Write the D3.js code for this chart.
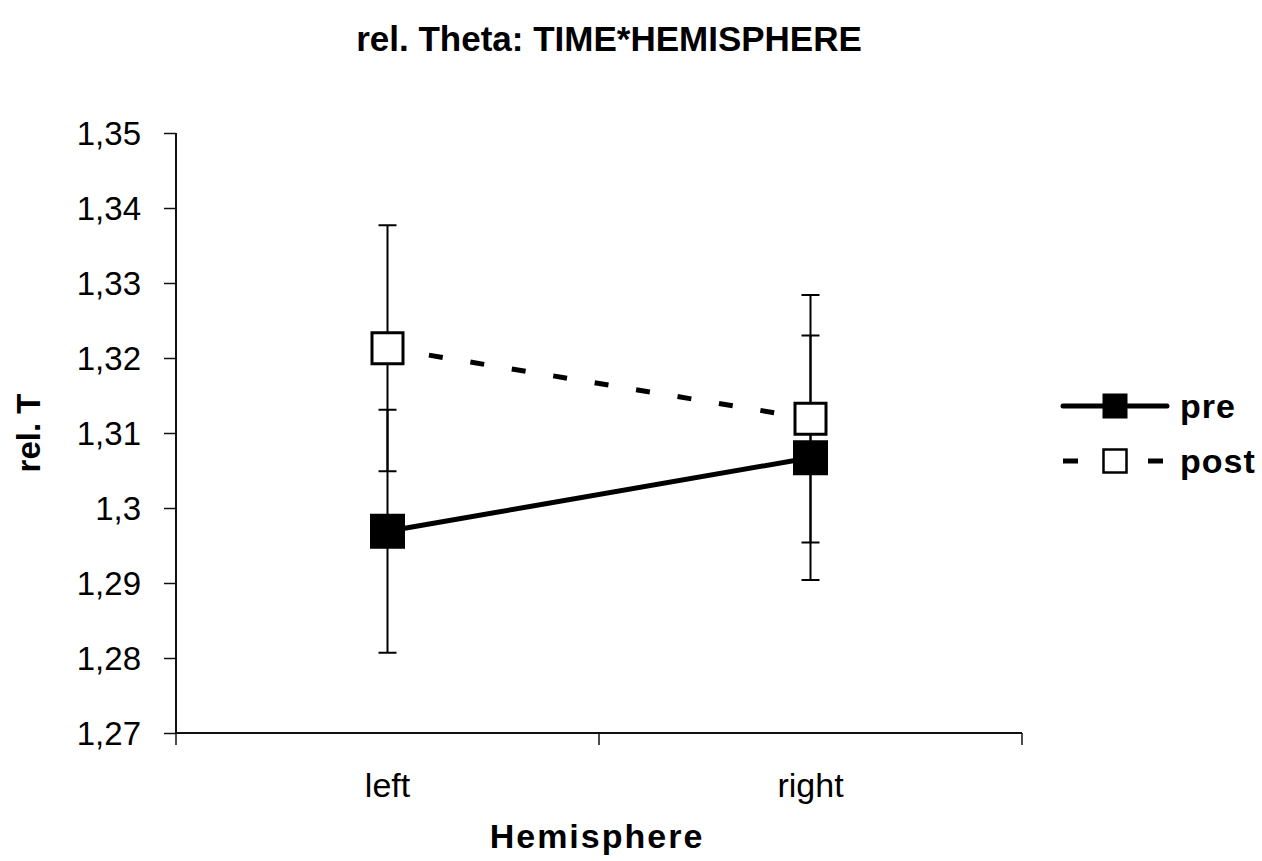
<!DOCTYPE html>
<html>
<head>
<meta charset="utf-8">
<script src="https://cdn.jsdelivr.net/npm/d3@7"></script>
<style>
  body { margin: 0; background: #fff; }
  text { font-family: "Liberation Sans", Arial, sans-serif; fill: #000; }
</style>
</head>
<body>
<svg id="chart" width="1262" height="861"></svg>
<script>
// data
var categories = ["left", "right"];
var seriesNames = ["pre", "post"];
var preValues = [1.2969, 1.3067];
var preErrors = [0.0162, 0.0163];
var postValues = [1.3213, 1.3119];
var postErrors = [0.0164, 0.0165];
var yTicks = [1.27, 1.28, 1.29, 1.30, 1.31, 1.32, 1.33, 1.34, 1.35];
var yTickLabels = ["1,27", "1,28", "1,29", "1,3", "1,31", "1,32", "1,33", "1,34", "1,35"];

var svg = d3.select("#chart");

var x = d3.scaleBand().domain(categories).range([176, 1022]),
    y = d3.scaleLinear().domain([1.27, 1.35]).range([733, 133]);

function cx(c) { return x(c) + x.bandwidth() / 2; }

var series = [
  {id: seriesNames[0], values: preValues, errors: preErrors, filled: true, dash: null},
  {id: seriesNames[1], values: postValues, errors: postErrors, filled: false, dash: "14,28"}
];

// title
svg.append("text")
    .attr("x", 609).attr("y", 51)
    .attr("text-anchor", "middle")
    .style("font-size", "35px").style("font-weight", "bold")
    .text("rel. Theta: TIME*HEMISPHERE");

// y axis
var yAxis = svg.append("g")
    .attr("class", "axis axis--y")
    .attr("transform", "translate(176,0)")
    .call(d3.axisLeft(y).tickValues(yTicks).tickSize(12).tickPadding(23)
      .tickFormat(function(d, i) { return yTickLabels[i]; }));
yAxis.select(".domain").attr("d", "M0,133V733").attr("stroke", "#111").attr("stroke-width", 2);
yAxis.selectAll(".tick line").attr("stroke", "#111").attr("stroke-width", 1.5);
yAxis.selectAll(".tick text")
    .style("font-size", "33px")
    .attr("font-family", null).attr("dy", "0.36em");

// x axis
var xAxis = svg.append("g")
    .attr("class", "axis axis--x")
    .attr("transform", "translate(0,733)")
    .call(d3.axisBottom(x).tickSize(0).tickPadding(64));
xAxis.select(".domain").attr("d", "M176,0H1022").attr("stroke", "#111").attr("stroke-width", 2);
xAxis.selectAll(".tick text")
    .style("font-size", "34px")
    .attr("font-family", null).attr("dy", "0");
// boundary ticks between categories
xAxis.selectAll(".bound")
    .data(x.range().concat([x("right")]))
    .enter().append("line")
      .attr("class", "bound")
      .attr("x1", function(d) { return d; }).attr("x2", function(d) { return d; })
      .attr("y1", 0).attr("y2", 12)
      .attr("stroke", "#111").attr("stroke-width", 1.5);

// axis titles
svg.append("text")
    .attr("transform", "translate(40,433) rotate(-90)")
    .attr("text-anchor", "middle")
    .style("font-size", "33px").style("font-weight", "bold")
    .text("rel. T");

svg.append("text")
    .attr("x", 597).attr("y", 848)
    .attr("text-anchor", "middle")
    .style("font-size", "34px").style("font-weight", "bold").style("letter-spacing", "2px")
    .text("Hemisphere");

var line = d3.line()
    .x(function(d, i) { return cx(categories[i]); })
    .y(function(d) { return y(d); });

// lines
svg.selectAll(".line")
    .data(series)
    .enter().append("path")
      .attr("class", "line")
      .attr("d", function(s) { return line(s.values); })
      .attr("fill", "none")
      .attr("stroke", "#000")
      .attr("stroke-width", 5)
      .attr("stroke-dasharray", function(s) { return s.dash; });

// error bars
series.forEach(function(s) {
  var g = svg.append("g").attr("class", "err");
  s.values.forEach(function(v, i) {
    var px = cx(categories[i]);
    var top = y(v + s.errors[i]), bot = y(v - s.errors[i]);
    g.append("line").attr("x1", px).attr("x2", px).attr("y1", top).attr("y2", bot)
      .attr("stroke", "#000").attr("stroke-width", 2);
    [top, bot].forEach(function(yy) {
      g.append("line").attr("x1", px - 9).attr("x2", px + 9).attr("y1", yy).attr("y2", yy)
        .attr("stroke", "#000").attr("stroke-width", 2);
    });
  });
});

// markers
series.forEach(function(s) {
  svg.selectAll(".mk-" + s.id)
    .data(s.values)
    .enter().append("rect")
      .attr("class", "mk-" + s.id)
      .attr("x", function(d, i) { return cx(categories[i]) - (s.filled ? 17.5 : 15.5); })
      .attr("y", function(d) { return y(d) - (s.filled ? 17.5 : 15.5); })
      .attr("width", s.filled ? 35 : 31)
      .attr("height", s.filled ? 35 : 31)
      .attr("fill", s.filled ? "#000" : "#fff")
      .attr("stroke", "#000")
      .attr("stroke-width", s.filled ? 0 : 3);
});

// legend
var legend = svg.selectAll(".legend")
    .data(series)
    .enter().append("g")
      .attr("class", "legend")
      .attr("transform", function(d, i) { return "translate(1063," + (406 + i * 55) + ")"; });

legend.append("line")
    .attr("x1", 0).attr("x2", 104)
    .attr("stroke", "#000").attr("stroke-width", 5)
    .attr("stroke-linecap", function(d) { return d.dash ? "butt" : "round"; })
    .attr("stroke-dasharray", function(d) { return d.dash ? "15,70" : null; });

legend.append("rect")
    .attr("x", function(d) { return d.filled ? 39.5 : 40.5; })
    .attr("y", function(d) { return d.filled ? -12.5 : -11.5; })
    .attr("width", function(d) { return d.filled ? 25 : 23; })
    .attr("height", function(d) { return d.filled ? 25 : 23; })
    .attr("fill", function(d) { return d.filled ? "#000" : "#fff"; })
    .attr("stroke", "#000")
    .attr("stroke-width", function(d) { return d.filled ? 0 : 2.5; });

legend.append("text")
    .attr("x", 117).attr("y", 12)
    .style("font-size", "34px").style("font-weight", "bold").style("letter-spacing", "1px")
    .text(function(d) { return d.id; });
</script>
</body>
</html>
